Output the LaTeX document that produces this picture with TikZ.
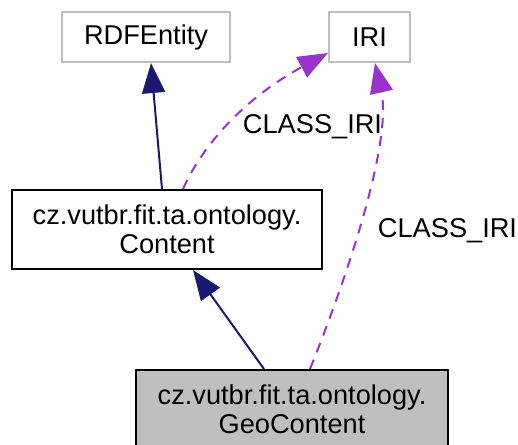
\documentclass[tikz,border=0pt]{standalone}
\usepackage{fontspec}
\setmainfont{Liberation Sans}
\usetikzlibrary{arrows.meta}
\definecolor{edgeblue}{HTML}{191970}
\definecolor{edgepurple}{HTML}{9A32CD}
\definecolor{boxgray}{HTML}{BFBFBF}

\begin{document}
\begin{tikzpicture}[x=1pt,y=-1pt,
  font=\fontsize{27.2}{29}\selectfont,
  cls/.style={draw=boxgray,line width=2pt,inner sep=0pt,align=center},
  main/.style={draw=black,line width=2pt,inner sep=0pt,align=center},
  cur/.style={main,fill=boxgray},
  inh/.style={edgeblue,line width=2pt,-{Triangle[length=30pt,width=23pt]}},
  use/.style={edgepurple,line width=2pt,dash pattern=on 10pt off 8pt,
    -{Triangle[length=30pt,width=23pt]}}]
  \useasboundingbox (0,0) rectangle (518,444);
  \node[cls,minimum width=168pt,minimum height=50pt] (rdf) at (146,37) {RDFEntity};
  \node[cls,minimum width=81pt,minimum height=50pt] (iri) at (369.5,37) {IRI};
  \node[main,minimum width=310pt,minimum height=79pt] (content) at (167,229.5)
    {cz.vutbr.fit.ta.ontology.\\Content};
  \node[cur,minimum width=312pt,minimum height=79pt] (geo) at (292,409.5)
    {cz.vutbr.fit.ta.ontology.\\GeoContent};
  % labels of the uses
  \node[anchor=base] (lbla) at (312.5,133) {CLASS\_IRI};
  \node[anchor=base] (lblb) at (447.5,237) {CLASS\_IRI};
  % edges
  \draw[inh] ([xshift=-5pt]content.north) -- ([xshift=5pt]rdf.south);
  \draw[use] ([xshift=16pt]content.north) .. controls (205,140) and (250,95)
    .. ([yshift=-16pt]iri.west);
  \draw[use] ([xshift=18pt]geo.north) .. controls (350,270) and (392,140)
    .. ([xshift=5.5pt]iri.south);
  \draw[inh] ([xshift=-28pt]geo.north) -- ([xshift=26pt]content.south);
\end{tikzpicture}
\end{document}
